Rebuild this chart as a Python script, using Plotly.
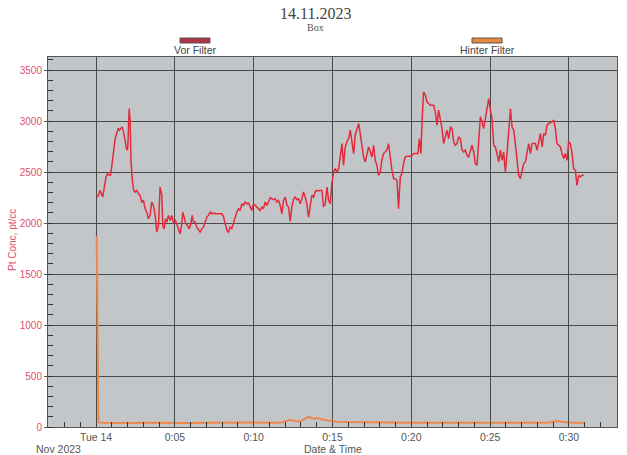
import plotly.graph_objects as go

# ---- data (time in minutes after 14.11.2023 00:00) ----
vor_time = [
    0.04, 0.15, 0.25, 0.36, 0.42, 0.51, 0.63, 0.72, 0.85, 0.93, 1.02, 1.10, 1.21, 1.31, 1.40, 1.48,
    1.57, 1.65, 1.74, 1.84, 1.95, 2.01, 2.10, 2.16, 2.22, 2.31, 2.39, 2.48, 2.58, 2.69, 2.79, 2.90,
    3.01, 3.11, 3.22, 3.32, 3.43, 3.53, 3.64, 3.75, 3.85, 3.96, 4.06, 4.17, 4.23, 4.32, 4.40, 4.49,
    4.59, 4.70, 4.80, 4.91,
    5.02, 5.12, 5.23, 5.33, 5.44, 5.50, 5.59, 5.69, 5.80, 5.91, 6.01, 6.10, 6.18, 6.29, 6.39, 6.50,
    6.60, 6.71, 6.81, 6.92, 7.03, 7.13, 7.24, 7.34, 7.45, 7.56, 7.66, 7.77, 7.87, 7.98, 8.08, 8.19,
    8.30, 8.40, 8.51, 8.61, 8.72, 8.83, 8.93, 9.04, 9.14, 9.25, 9.35, 9.46, 9.57, 9.67, 9.78, 9.88,
    9.99, 10.10, 10.20,
    10.31, 10.41, 10.52, 10.62, 10.73, 10.84, 10.94, 11.05, 11.15, 11.26, 11.37, 11.47, 11.58, 11.68,
    11.79, 11.89, 12.00, 12.11, 12.21, 12.32, 12.42, 12.53, 12.63, 12.74, 12.85, 12.95, 13.06, 13.16,
    13.27, 13.37, 13.48, 13.59, 13.69, 13.80, 13.90, 14.01, 14.12, 14.22, 14.33, 14.43, 14.54,
    14.65, 14.75, 14.86, 14.96, 15.07, 15.17, 15.28, 15.39, 15.49, 15.60, 15.70, 15.81, 15.92, 16.02,
    16.13, 16.23, 16.34, 16.44, 16.55, 16.66, 16.76, 16.87, 16.97, 17.08, 17.18, 17.29, 17.40, 17.50,
    17.61, 17.71, 17.82, 17.92, 18.03, 18.13, 18.24, 18.35, 18.45, 18.56, 18.66, 18.77, 18.88, 18.98,
    19.09, 19.19, 19.30, 19.40, 19.51, 19.61, 19.72, 19.94, 20.04, 20.15,
    20.25, 20.42, 20.51, 20.61, 20.68, 20.78, 20.89, 20.99, 21.10, 21.21, 21.31, 21.42, 21.52, 21.63,
    21.73, 21.84, 21.95, 22.05, 22.16, 22.26, 22.37, 22.48, 22.58, 22.69, 22.79, 22.90, 23.00, 23.11,
    23.22, 23.32, 23.43, 23.53, 23.64, 23.75, 23.85, 23.96, 24.06, 24.17, 24.27, 24.38, 24.49, 24.59,
    24.70, 24.80, 24.91, 25.02, 25.12, 25.23,
    25.33, 25.44, 25.55, 25.65, 25.76, 25.86, 25.97, 26.07, 26.18, 26.29, 26.39, 26.50, 26.60, 26.71,
    26.81, 26.92, 27.03, 27.13, 27.24, 27.34, 27.45, 27.56, 27.66, 27.77, 27.87, 27.98, 28.08, 28.19,
    28.30, 28.40, 28.51, 28.61, 28.72, 28.93, 29.03, 29.14, 29.24, 29.35, 29.46, 29.56, 29.67, 29.77,
    29.88, 29.98, 30.09, 30.20, 30.30, 30.41, 30.51, 30.62, 30.73, 30.83, 30.94,
]
vor_filter = [
    2255, 2271, 2320, 2271, 2255, 2337, 2452, 2484, 2468, 2474, 2599, 2730, 2828, 2877, 2927, 2910,
    2927, 2943, 2894, 2796, 2714, 2730, 3123, 2992, 2599, 2402, 2320, 2304, 2320, 2288, 2271, 2206,
    2222, 2140, 2107, 2042, 2075, 2206, 2173, 2075, 1911, 1976, 2353, 2271, 1976, 1943, 2042, 2009,
    2075, 2025, 2075, 2000,
    2025, 1993, 1927, 1894, 1993, 2107, 2058, 1993, 1976, 1943, 1993, 2075, 2009, 2009, 1960, 1927,
    1911, 1943, 1960, 2009, 2058, 2075, 2107, 2091, 2098, 2091, 2091, 2098, 2091, 2091, 2065, 1993,
    1927, 1911, 1960, 1943, 2009, 2058, 2107, 2140, 2124, 2189, 2173, 2206, 2189, 2196, 2157, 2124,
    2189, 2173, 2157,
    2140, 2124, 2157, 2140, 2206, 2173, 2206, 2248, 2238, 2229, 2238, 2206, 2222, 2173,
    2091, 2222, 2255, 2173, 2157, 2016, 2157, 2238, 2255, 2229, 2238, 2189, 2238, 2304,
    2255, 2189, 2058, 2157, 2271, 2255, 2304, 2320, 2314, 2320, 2320, 2157, 2189,
    2353, 2222, 2189, 2386, 2500, 2533, 2500, 2533, 2648, 2779, 2566, 2746, 2796, 2828,
    2910, 2779, 2681, 2861, 2927, 2976, 2877, 2746, 2648, 2599, 2681, 2746, 2697, 2648,
    2763, 2615, 2566, 2468, 2500, 2615, 2681, 2697, 2714, 2779, 2648, 2517, 2435, 2435,
    2419, 2140, 2452, 2484, 2583, 2648, 2655, 2655, 2664, 2681,
    2681, 2681, 2828, 2681, 2992, 3287, 3254, 3189, 3172, 3156, 3156, 3156, 3090, 2959,
    3107, 3025, 2927, 2779, 2861, 2910, 2828, 2943, 2927, 2796, 2763, 2779, 2845, 2828,
    2714, 2697, 2714, 2664, 2648, 2697, 2763, 2697, 2583, 2566, 2796, 3041, 2992, 2927,
    3025, 3123, 3220, 3107, 3025, 2763,
    2746, 2681, 2599, 2714, 2615, 2697, 2500, 2681, 2910, 3120, 2943, 2910, 2779, 2615,
    2468, 2435, 2500, 2583, 2599, 2681, 2779, 2681, 2779, 2779, 2779, 2714, 2796, 2877,
    2746, 2877, 2861, 2959, 2976, 2992, 3009, 2927, 2779, 2763, 2746, 2681, 2632, 2681,
    2615, 2796, 2779, 2681, 2533, 2517, 2370, 2468, 2452, 2468, 2468,
]

hinter_time = [
    0.04, 0.15, 0.6, 1.2, 2.0, 3.0, 4.0, 5.0, 6.0, 7.0, 8.0, 9.0, 10.0, 11.0, 11.8, 12.3, 12.6,
    12.9, 13.2, 13.45, 13.8, 14.1, 14.4, 14.8, 15.3, 16.0, 17.0, 18.0, 19.0, 20.0, 21.0, 22.0,
    23.0, 24.0, 25.0, 26.0, 27.0, 28.0, 28.8, 29.2, 29.6, 30.0, 30.5, 31.0,
]
hinter_filter = [
    1870, 45, 42, 40, 40, 42, 40, 41, 40, 42, 40, 41, 43, 42, 45, 70, 62,
    52, 75, 100, 82, 88, 72, 60, 52, 48, 45, 44, 43, 42, 42, 43,
    42, 42, 43, 42, 41, 42, 45, 58, 48, 45, 42, 40,
]

x_tickvals = [0, 5, 10, 15, 20, 25, 30]
x_ticktext = ["Tue 14", "0:05", "0:10", "0:15", "0:20", "0:25", "0:30"]
y_tickvals = [0, 500, 1000, 1500, 2000, 2500, 3000, 3500]

series_names = ["Vor Filter", "Hinter Filter"]
line_colors = ["#e32b3c", "#f0874a"]
legend_fill = ["#b23347", "#e88a3c"]

W, H = 627, 455
ML, MR, MT, MB = 48, 10, 57, 28
plot_w = W - ML - MR
plot_h = H - MT - MB


def px_x(px):
    return (px - ML) / plot_w


def px_y(py):
    return (H - MB - py) / plot_h


fig = go.Figure()
fig.add_trace(go.Scatter(x=vor_time, y=vor_filter, mode="lines", name=series_names[0],
                         line=dict(color=line_colors[0], width=1.5)))
fig.add_trace(go.Scatter(x=hinter_time, y=hinter_filter, mode="lines", name=series_names[1],
                         line=dict(color=line_colors[1], width=2)))

grid_col = "#4a4a4a"
fig.update_layout(
    width=W, height=H,
    margin=dict(l=ML, r=MR, t=MT, b=MB),
    paper_bgcolor="white",
    plot_bgcolor="#c3c6c8",
    showlegend=False,
    font=dict(family="Liberation Sans, Arial, sans-serif", size=10, color="#555"),
)
fig.update_xaxes(
    automargin=False,
    range=[-3.05, 33.05],
    tickmode="array", tickvals=x_tickvals, ticktext=x_ticktext,
    showgrid=True, gridcolor=grid_col, gridwidth=1.4,
    ticks="inside", ticklen=6, tickcolor=grid_col, tickwidth=1.4,
    minor=dict(dtick=1, tick0=0, ticks="inside", ticklen=5, tickcolor="#333", tickwidth=1, showgrid=False),
    showline=True, linecolor="#555", linewidth=1, mirror=True,
    zeroline=False,
    tickfont=dict(size=10.5, color="#555"),
)
fig.update_yaxes(
    automargin=False,
    range=[0, 3628],
    tickmode="array", tickvals=y_tickvals,
    showgrid=True, gridcolor=grid_col, gridwidth=1.4,
    ticks="outside", ticklen=3, tickcolor="#555", tickwidth=1,
    minor=dict(dtick=100, tick0=0, ticks="inside", ticklen=5, tickcolor="#333", tickwidth=1, showgrid=False),
    showline=True, linecolor="#555", linewidth=1, mirror=True,
    zeroline=False,
    tickfont=dict(size=10, color="#e0506a"),
)

annotations = [
    dict(text="14.11.2023", x=px_x(W / 2 + 2), y=px_y(13),
         font=dict(family="Liberation Serif, Times New Roman, serif", size=16, color="#444")),
    dict(text="Box", x=px_x(W / 2 + 2), y=px_y(28),
         font=dict(family="Liberation Serif, Times New Roman, serif", size=10, color="#555")),
    dict(text="Nov 2023", x=px_x(58), y=px_y(449),
         font=dict(size=10.5, color="#555")),
    dict(text="Date & Time", x=px_x(333), y=px_y(449),
         font=dict(size=10.5, color="#555")),
    dict(text="Pt Conc, pt/cc", x=px_x(12), y=px_y(240), textangle=-90,
         font=dict(size=10, color="#e0506a")),
]

legend_cx = [195, 487]
shapes = []
for name, fill, cx in zip(series_names, legend_fill, legend_cx):
    shapes.append(dict(type="rect", xref="paper", yref="paper",
                       x0=px_x(cx - 15), x1=px_x(cx + 15), y0=px_y(43), y1=px_y(38),
                       fillcolor=fill, line=dict(color="#555", width=1)))
    annotations.append(dict(text=name, x=px_x(cx), y=px_y(50),
                            font=dict(size=10.5, color="#444")))

for a in annotations:
    a.update(xref="paper", yref="paper", showarrow=False, xanchor="center", yanchor="middle")

fig.update_layout(annotations=annotations, shapes=shapes)
fig.write_html("out.html")
